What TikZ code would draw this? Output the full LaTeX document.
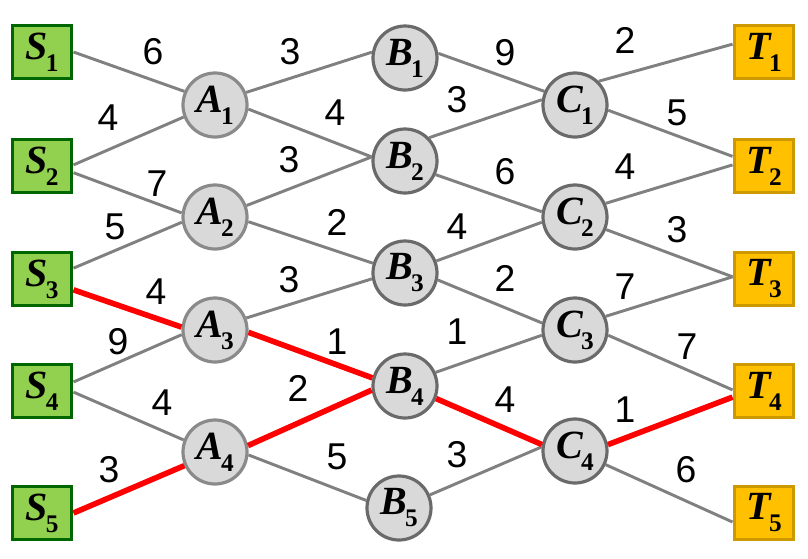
\documentclass[tikz,border=0pt]{standalone}
\usepackage{fontspec}
\setmainfont{Liberation Serif}
\newfontfamily\wtfont{Liberation Sans}
\usepackage{xcolor}

\definecolor{srcgreen}{HTML}{92D050}
\definecolor{srcedge}{HTML}{006600}
\definecolor{sinkgold}{HTML}{FFC000}
\definecolor{sinkedge}{HTML}{CC9900}
\definecolor{hubfill}{HTML}{D9D9D9}
\definecolor{hubedgeA}{HTML}{8A8A8A}
\definecolor{hubedgeB}{HTML}{6A6A6A}
\definecolor{linkgrey}{HTML}{808080}

% vertex label: bold italic letter with upright bold index
\newcommand{\vlab}[2]{\fontsize{30}{30}\selectfont\bfseries\itshape #1\kern-0.04em\raisebox{-9pt}{\fontsize{19}{19}\selectfont\upshape #2}}

\tikzset{
  src/.style={draw=srcedge, fill=srcgreen, line width=2.4pt,
    minimum width=44.8pt, minimum height=40.3pt, inner sep=0pt},
  sink/.style={src, draw=sinkedge, fill=sinkgold},
  hub/.style={circle, draw=hubedgeB, fill=hubfill, line width=2.4pt,
    minimum size=48pt, inner sep=0pt},
  link/.style={draw=linkgrey, line width=2.2pt},
  best/.style={draw=red, line width=4.2pt},
  wt/.style={font=\wtfont\fontsize{28}{28}\selectfont, inner sep=0pt}
}

\begin{document}
\begin{tikzpicture}[x=0.75pt,y=-0.75pt]

        \useasboundingbox (0,0) rectangle (808,558);

        % Sources and sinks
        \foreach \i/\y in {1/52,2/166,3/279,4/391,5/513}
        {
            \node[src] (S\i) at (42,\y) {\vlab{S}{\i}};
            \node[sink] (T\i) at (764,\y) {\vlab{T}{\i}};
        }

        % Middle layers
        \foreach \i/\y in {1/105,2/217,3/330,4/452}
            \node[hub, draw=hubedgeA] (A\i) at (215,\y) {\vlab{A}{\i}};
        \foreach \i/\x/\y in {1/405/58,2/405/161,3/405/273,4/405/386,5/399/508}
            \node[hub] (B\i) at (\x,\y) {\vlab{B}{\i}};
        \foreach \i/\y in {1/105,2/217,3/330,4/451}
            \node[hub] (C\i) at (575,\y) {\vlab{C}{\i}};

        % Links
        \foreach \u/\v in {S1.0/A1.156, S2.2/A1.201, S2.-12/A2.173, S3.19/A2.189,
            S4.16/A3.188, S4.-2/A4.159,
            A1.22/B1.170, A1.-7/B2.173, A2.20/B2.173, A2.-8/B3.163,
            A3.21/B3.190, A4.-5/B5.167,
            B1.8/C1.156, B2.44/C1.171, B2.-24/C2.171, B3.21/C2.189,
            B3.-12/C3.168, B4.24/C3.189, B5.23/C4.173,
            C1.45/T1.166, C1.-9/T2.163, C2.24/T2.178, C2.-22/T3.176,
            C3.24/T3.176, C3.-9/T4.178, C4.-24/T5.196}
        {
            \draw[link] (\u) -- (\v);
        }

        % Shortest route
        \foreach \u/\v in {S5.0/A4.204, S3.-19/A3.175, A3.-4/B4.166,
            A4.11/B4.187, B4.-22/C4.169, C4.11/T4.191}
        {
            \draw[best] (\u) -- (\v);
        }

        % Weights
        \foreach \w/\x/\y [count=\n] in {6/153/52, 4/108/118, 7/157/184, 5/115/227,
            4/156/292, 9/118/342, 4/162/403, 3/109/470,
            3/290/52, 4/335/113, 3/289/160, 2/337/222,
            3/289/280, 1/337/342, 2/298/388, 5/337/457,
            9/505/53, 3/457/100, 6/505/172, 4/457/227,
            2/505/278, 1/457/332, 4/505/400, 3/457/455,
            2/625/40, 5/677/113, 4/625/167, 3/677/230,
            7/625/287, 7/687/347, 1/625/410, 6/686/470}
        {
            \node[wt] (w\n) at (\x,\y) {\w};
        }

    \end{tikzpicture}
\end{document}
